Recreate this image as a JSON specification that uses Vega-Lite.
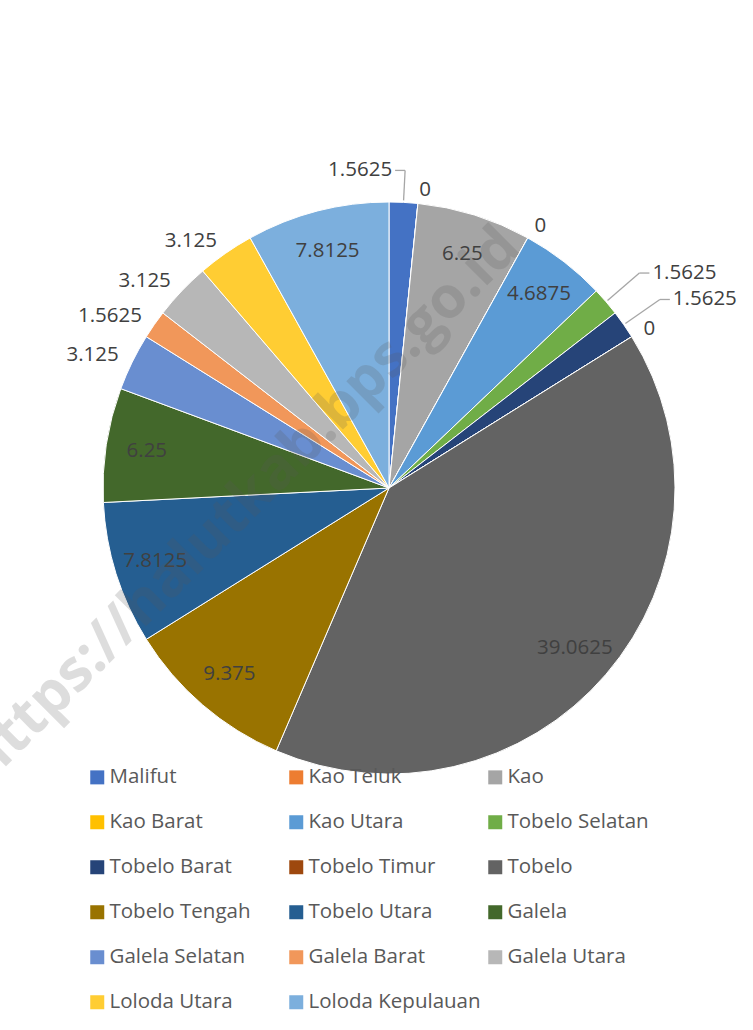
{
  "$schema": "https://vega.github.io/schema/vega-lite/v6.json",
  "autosize": {"type": "none"},
  "padding": {"left": 25, "top": 0, "right": 0, "bottom": 54},
  "width": 728,
  "height": 976,
  "background": "white",
  "config": {"view": {"stroke": null}, "font": "Open Sans"},
  "data": {"values": [
    {"i": 1, "name": "Malifut", "value": 1.5625},
    {"i": 2, "name": "Kao Teluk", "value": 0},
    {"i": 3, "name": "Kao", "value": 6.25},
    {"i": 4, "name": "Kao Barat", "value": 0},
    {"i": 5, "name": "Kao Utara", "value": 4.6875},
    {"i": 6, "name": "Tobelo Selatan", "value": 1.5625},
    {"i": 7, "name": "Tobelo Barat", "value": 1.5625},
    {"i": 8, "name": "Tobelo Timur", "value": 0},
    {"i": 9, "name": "Tobelo", "value": 39.0625},
    {"i": 10, "name": "Tobelo Tengah", "value": 9.375},
    {"i": 11, "name": "Tobelo Utara", "value": 7.8125},
    {"i": 12, "name": "Galela", "value": 6.25},
    {"i": 13, "name": "Galela Selatan", "value": 3.125},
    {"i": 14, "name": "Galela Barat", "value": 1.5625},
    {"i": 15, "name": "Galela Utara", "value": 3.125},
    {"i": 16, "name": "Loloda Utara", "value": 3.125},
    {"i": 17, "name": "Loloda Kepulauan", "value": 7.8125}
  ]},
  "layer": [
    {
      "mark": {"type": "arc", "outerRadius": 286, "stroke": "#ffffff", "strokeWidth": 1},
      "encoding": {
        "theta": {"field": "value", "type": "quantitative", "stack": true},
        "order": {"field": "i", "type": "quantitative"},
        "color": {
          "field": "name", "type": "nominal",
          "scale": {
            "domain": ["Malifut", "Kao Teluk", "Kao", "Kao Barat", "Kao Utara", "Tobelo Selatan", "Tobelo Barat", "Tobelo Timur", "Tobelo", "Tobelo Tengah", "Tobelo Utara", "Galela", "Galela Selatan", "Galela Barat", "Galela Utara", "Loloda Utara", "Loloda Kepulauan"],
            "range": ["#4472C4", "#ED7D31", "#A5A5A5", "#FFC000", "#5B9BD5", "#70AD47", "#264478", "#9E480E", "#636363", "#997300", "#255E91", "#43682B", "#698ED0", "#F1975A", "#B7B7B7", "#FFCD33", "#7CAFDD"]
          },
          "legend": {
            "title": null, "orient": "none", "legendX": 62, "legendY": 767,
            "direction": "horizontal",
            "columns": 3, "gridAlign": "all", "columnPadding": 4, "rowPadding": 24,
            "symbolType": "square", "symbolSize": 196, "symbolStrokeWidth": 0,
            "labelFont": "Open Sans", "labelFontSize": 20.5, "labelColor": "#595959",
            "labelOffset": 2, "labelLimit": 300, "padding": 0
          }
        }
      }
    },
    {
      "mark": {"type": "text", "radius": 245, "fontSize": 20.5, "font": "Open Sans", "fill": "#404040", "align": "center", "baseline": "middle"},
      "encoding": {
        "theta": {"field": "value", "type": "quantitative", "stack": true},
        "order": {"field": "i", "type": "quantitative"},
        "detail": {"field": "name", "type": "nominal"},
        "text": {"condition": {"test": "datum.value >= 4", "field": "value", "type": "nominal"}, "value": ""}
      }
    },
    {
      "mark": {"type": "text", "radius": 300, "fontSize": 20.5, "font": "Open Sans", "fill": "#404040", "align": "left", "baseline": "middle"},
      "encoding": {
        "theta": {"field": "value", "type": "quantitative", "stack": true},
        "order": {"field": "i", "type": "quantitative"},
        "detail": {"field": "name", "type": "nominal"},
        "text": {"condition": {"test": "indexof(['Kao Teluk','Kao Barat','Tobelo Timur'], datum.name) >= 0", "field": "value", "type": "nominal"}, "value": ""}
      }
    },
    {
      "mark": {"type": "text", "radius": 301, "fontSize": 20.5, "font": "Open Sans", "fill": "#404040", "align": "right", "baseline": "middle"},
      "encoding": {
        "theta": {"field": "value", "type": "quantitative", "stack": true},
        "order": {"field": "i", "type": "quantitative"},
        "detail": {"field": "name", "type": "nominal"},
        "text": {"condition": {"test": "indexof(['Galela Selatan','Galela Barat','Galela Utara','Loloda Utara'], datum.name) >= 0", "field": "value", "type": "nominal"}, "value": ""}
      }
    },
    {
      "transform": [
        {"window": [{"op": "sum", "field": "value", "as": "cum"}], "sort": [{"field": "i"}], "frame": [null, 0]},
        {"joinaggregate": [{"op": "sum", "field": "value", "as": "tot"}]},
        {"calculate": "(datum.cum - datum.value / 2) / datum.tot * 2 * PI", "as": "mid"},
        {"filter": "indexof(['Malifut','Tobelo Selatan','Tobelo Barat'], datum.name) >= 0"},
        {"calculate": "datum.name == 'Malifut' ? -1 : 1", "as": "side"},
        {"calculate": "288 * sin(datum.mid)", "as": "x1"},
        {"calculate": "288 * cos(datum.mid)", "as": "y1"},
        {"calculate": "(datum.side < 0 ? 318 : 330) * sin(datum.mid)", "as": "x2"},
        {"calculate": "(datum.side < 0 ? 318 : 330) * cos(datum.mid)", "as": "y2"},
        {"calculate": "datum.x2 + datum.side * 10", "as": "x3"}
      ],
      "layer": [
        {
          "mark": {"type": "rule", "color": "#A6A6A6", "strokeWidth": 1.3},
          "encoding": {
            "x": {"field": "x1", "type": "quantitative", "scale": {"domain": [-364, 364], "nice": false, "zero": false}, "axis": null},
            "y": {"field": "y1", "type": "quantitative", "scale": {"domain": [-488, 488], "nice": false, "zero": false}, "axis": null},
            "x2": {"field": "x2"},
            "y2": {"field": "y2"}
          }
        },
        {
          "mark": {"type": "rule", "color": "#A6A6A6", "strokeWidth": 1.3},
          "encoding": {
            "x": {"field": "x2", "type": "quantitative", "scale": {"domain": [-364, 364], "nice": false, "zero": false}, "axis": null},
            "y": {"field": "y2", "type": "quantitative", "scale": {"domain": [-488, 488], "nice": false, "zero": false}, "axis": null},
            "x2": {"field": "x3"},
            "y2": {"field": "y2"}
          }
        },
        {
          "transform": [{"filter": "datum.side > 0"}],
          "mark": {"type": "text", "fontSize": 20.5, "font": "Open Sans", "fill": "#404040", "align": "left", "baseline": "middle", "dx": 3},
          "encoding": {
            "x": {"field": "x3", "type": "quantitative", "scale": {"domain": [-364, 364], "nice": false, "zero": false}, "axis": null},
            "y": {"field": "y2", "type": "quantitative", "scale": {"domain": [-488, 488], "nice": false, "zero": false}, "axis": null},
            "text": {"field": "value", "type": "nominal"}
          }
        },
        {
          "transform": [{"filter": "datum.side < 0"}],
          "mark": {"type": "text", "fontSize": 20.5, "font": "Open Sans", "fill": "#404040", "align": "right", "baseline": "middle", "dx": -3},
          "encoding": {
            "x": {"field": "x3", "type": "quantitative", "scale": {"domain": [-364, 364], "nice": false, "zero": false}, "axis": null},
            "y": {"field": "y2", "type": "quantitative", "scale": {"domain": [-488, 488], "nice": false, "zero": false}, "axis": null},
            "text": {"field": "value", "type": "nominal"}
          }
        }
      ]
    },
    {
      "data": {"values": [{"t": "https://halutkab.bps.go.id"}]},
      "mark": {"type": "text", "angle": 315, "fontSize": 58, "fontWeight": "bold", "font": "Open Sans", "fill": "#595959", "opacity": 0.2, "dx": -115, "dy": -91, "align": "center", "baseline": "middle"},
      "encoding": {"text": {"field": "t", "type": "nominal"}}
    }
  ]
}
